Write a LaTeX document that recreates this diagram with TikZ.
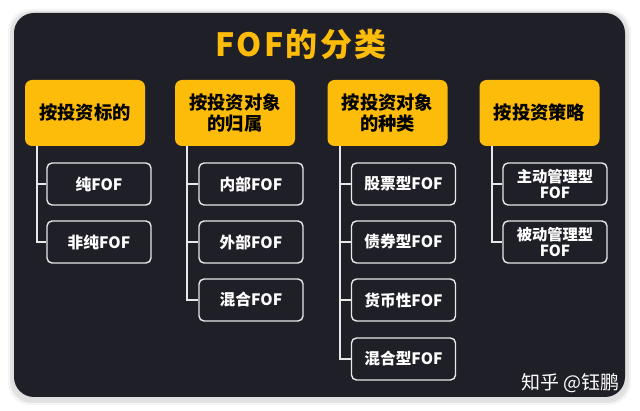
\documentclass[tikz,border=0pt]{standalone}
\usepackage{fontspec}
\setmainfont{Noto Sans CJK SC}
\definecolor{panel}{HTML}{1F1F27}
\definecolor{hdryellow}{HTML}{FDBC0A}
\definecolor{leafline}{HTML}{E8E8E8}
\definecolor{titleyellow}{HTML}{FDBC0A}
\begin{document}
\begin{tikzpicture}[x=1pt,y=-1pt,
  hdr/.style={fill=hdryellow, rounded corners=7pt, minimum width=120pt, minimum height=66pt, align=center, font=\bfseries\fontsize{18.3}{21.5}\selectfont, text=black, inner sep=0pt},
  leaf/.style={draw=leafline, line width=1.4pt, fill=panel, rounded corners=5pt, minimum width=104pt, minimum height=42pt, align=center, text=white, font=\bfseries\fontsize{15.7}{16}\selectfont, inner sep=0pt},
  link/.style={draw=leafline, line width=1.4pt}]
\useasboundingbox (0,0) rectangle (640,411);
\fill[white] (0,0) rectangle (640,411);
\foreach \d/\o in {6/4,4/7,2/10}{
  \fill[black, opacity=0.0\o, rounded corners=22pt] (14-\d,13-\d+2) rectangle (625+\d,397+\d+2);
}
\fill[panel, rounded corners=20pt] (14,13) rectangle (625,397);
\node[text=titleyellow, font=\bfseries\fontsize{32}{34}\selectfont\addfontfeature{LetterSpace=7}] (title) at (301,44) {FOF的分类};
% headers
\node[hdr] (h1) at (85,113) {按投资标的};
\node[hdr] (h2) at (235,113) {按投资对象\\的归属};
\node[hdr] (h3) at (387.5,113) {按投资对象\\的种类};
\node[hdr] (h4) at (539.5,113) {按投资策略};
% leaves
\node[leaf] (a1) at (99,184) {纯FOF};
\node[leaf] (a2) at (99,242) {非纯FOF};
\node[leaf] (b1) at (251,184) {内部FOF};
\node[leaf] (b2) at (251,242) {外部FOF};
\node[leaf] (b3) at (251,300) {混合FOF};
\node[leaf] (c1) at (403.5,184) {股票型FOF};
\node[leaf] (c2) at (403.5,242) {债券型FOF};
\node[leaf] (c3) at (403.5,300) {货币性FOF};
\node[leaf] (c4) at (403.5,359) {混合型FOF};
\node[leaf, font=\bfseries\fontsize{15.3}{15.5}\selectfont] (d1) at (555,184) {主动管理型\\FOF};
\node[leaf, font=\bfseries\fontsize{15.3}{15.5}\selectfont] (d2) at (555,242) {被动管理型\\FOF};
% connectors
\coordinate (ka) at ([xshift=-48pt]h1.south);
\coordinate (kb) at ([xshift=-48pt]h2.south);
\coordinate (kc) at ([xshift=-47.5pt]h3.south);
\coordinate (kd) at ([xshift=-47.5pt]h4.south);
\draw[link] (ka) |- (a2.west);
\draw[link] (ka |- a1.west) -- (a1.west);
\draw[link] (kb) |- (b3.west);
\draw[link] (kb |- b1.west) -- (b1.west);
\draw[link] (kb |- b2.west) -- (b2.west);
\draw[link] (kc) |- (c4.west);
\draw[link] (kc |- c1.west) -- (c1.west);
\draw[link] (kc |- c2.west) -- (c2.west);
\draw[link] (kc |- c3.west) -- (c3.west);
\draw[link] (kd) |- (d2.west);
\draw[link] (kd |- d1.west) -- (d1.west);
% watermark
\node[text=white, font=\fontsize{19}{21}\selectfont, anchor=east] (wm) at (623,383) {知乎 @钰鹏};
\end{tikzpicture}
\end{document}
